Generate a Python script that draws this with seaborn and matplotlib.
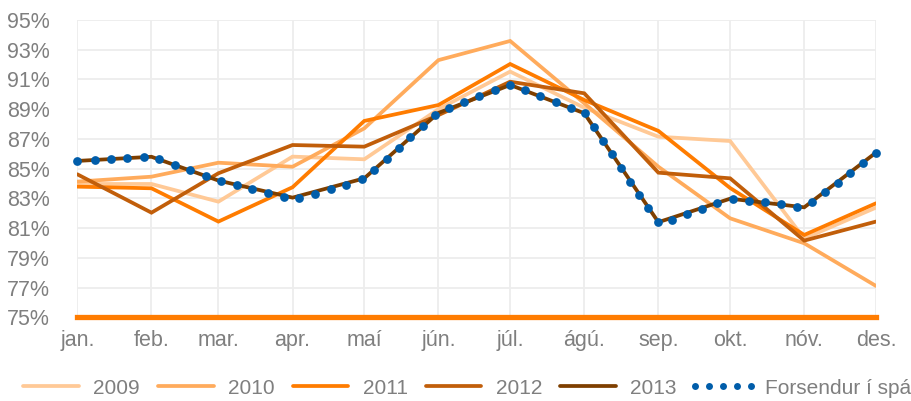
import matplotlib
matplotlib.use("Agg")
import matplotlib.pyplot as plt
import seaborn as sns
import pandas as pd

# ---------------- data ----------------
month_labels = ["jan.", "feb.", "mar.", "apr.", "maí", "jún.", "júl.", "ágú.",
                "sep.", "okt.", "nóv.", "des."]
month_dates = ["2013-01-01", "2013-02-01", "2013-03-01", "2013-04-01", "2013-05-01",
               "2013-06-01", "2013-07-01", "2013-08-01", "2013-09-01", "2013-10-01",
               "2013-11-01", "2013-12-01"]

y2009 = [83.97, 83.97, 82.78, 85.81, 85.63, 89.0, 91.53, 89.1, 87.15, 86.86, 80.3, 82.38]
y2010 = [84.13, 84.46, 85.40, 85.13, 87.71, 92.3, 93.59, 89.4, 85.13, 81.66, 79.98, 77.11]
y2011 = [83.79, 83.68, 81.44, 83.75, 88.21, 89.28, 92.04, 89.62, 87.54, 83.7, 80.54, 82.67]
y2012 = [84.62, 82.04, 84.69, 86.59, 86.48, 88.6, 90.85, 90.07, 84.73, 84.35, 80.16, 81.44]
y2013 = [85.52, 85.80, 84.20, 83.05, 84.35, 88.75, 90.63, 88.73, 81.40, 82.98, 82.40, 86.08]

# "Forsendur í spá": days after 1 Jan and values
fc_days = [0.0, 7.4, 14.1, 20.9, 27.8, 34.3, 40.9, 47.1, 53.7, 60.1, 66.7, 73.2, 79.9,
           86.4, 92.8, 99.5, 106.1, 112.5, 119.2, 124.1, 129.7, 134.5, 139.3, 144.5,
           149.5, 155.3, 161.7, 168.0, 174.6, 181.0, 187.4, 193.6, 200.1, 206.4, 212.3,
           216.2, 220.0, 223.8, 227.5, 231.3, 235.0, 238.8, 242.7, 248.6, 255.0, 261.4,
           267.7, 274.1, 281.0, 287.6, 294.3, 301.1, 307.2, 312.7, 318.0, 323.2, 328.7,
           334.0]
fc_vals = [85.52, 85.56, 85.63, 85.70, 85.77, 85.63, 85.25, 84.89, 84.53, 84.17, 83.88,
           83.63, 83.35, 83.10, 83.05, 83.32, 83.66, 83.92, 84.29, 84.91, 85.65, 86.37,
           87.11, 87.85, 88.59, 89.10, 89.51, 89.89, 90.27, 90.63, 90.29, 89.89, 89.51,
           89.10, 88.73, 87.78, 86.86, 85.97, 85.07, 84.13, 83.23, 82.34, 81.40, 81.55,
           81.93, 82.29, 82.69, 82.98, 82.85, 82.74, 82.61, 82.44, 82.74, 83.41, 84.06,
           84.73, 85.40, 86.08]

series_names = ["2009", "2010", "2011", "2012", "2013"]
series_vals = [y2009, y2010, y2011, y2012, y2013]
series_colors = ["#FFC996", "#FFAB5C", "#FF7C00", "#C15E0A", "#7E3F00"]
fc_name = "Forsendur í spá"
fc_color = "#005DAA"

y_ticks = list(range(75, 96, 2))

# ---------------- style ----------------
sns.set_theme(style="white")
plt.rcParams["font.family"] = ["Liberation Sans", "DejaVu Sans"]

fig = plt.figure(figsize=(9.12, 4.01), dpi=100)
ax = fig.add_axes([0.0848, 0.2087, 0.8757, 0.7414])

mdays = (pd.to_datetime(month_dates) - pd.Timestamp("2013-01-01")).days.astype(float)

for name, vals, col in zip(series_names, series_vals, series_colors):
    df = pd.DataFrame({"day": mdays, "v": vals})
    sns.lineplot(data=df, x="day", y="v", ax=ax, color=col, linewidth=2.7,
                 label=name, sort=False, solid_joinstyle="miter")

fdf = pd.DataFrame({"day": fc_days, "v": fc_vals})
sns.lineplot(data=fdf, x="day", y="v", ax=ax, color=fc_color, linestyle="none",
             marker="o", markersize=6.3, markeredgewidth=0, label=fc_name,
             sort=False, clip_on=False)

ax.set_xlim(0, 334)
ax.set_ylim(75, 95)
ax.set_xticks(mdays)
ax.set_xticklabels(month_labels)
ax.set_yticks(y_ticks)
ax.set_yticklabels([f"{v}%" for v in y_ticks])
ax.set_xlabel("")
ax.set_ylabel("")
ax.tick_params(axis="both", length=0, labelsize=15.5, colors="#7F7F7F")
ax.tick_params(axis="y", pad=20)
ax.tick_params(axis="x", pad=9)
ax.grid(True, color="#EDEDED", linewidth=1.3)
ax.set_axisbelow(True)
for s in ["top", "right", "left"]:
    ax.spines[s].set_visible(False)
ax.spines["bottom"].set_color("#FF7C00")
ax.spines["bottom"].set_linewidth(3.8)
ax.spines["bottom"].set_zorder(5)

handles, labels = ax.get_legend_handles_labels()
ax.get_legend().remove()
leg = fig.legend(handles, labels, loc="center left", bbox_to_anchor=(0.0186, 0.032),
                 ncol=6, frameon=False, fontsize=15, handlelength=3.27,
                 handletextpad=0.38, columnspacing=0.58, borderpad=0,
                 borderaxespad=0, numpoints=5, labelcolor="#7F7F7F")
for h in leg.legend_handles:
    if h.get_marker() not in (None, "None", ""):
        h.set_markersize(5)

fig.savefig("out.png", dpi=100, facecolor="white")
